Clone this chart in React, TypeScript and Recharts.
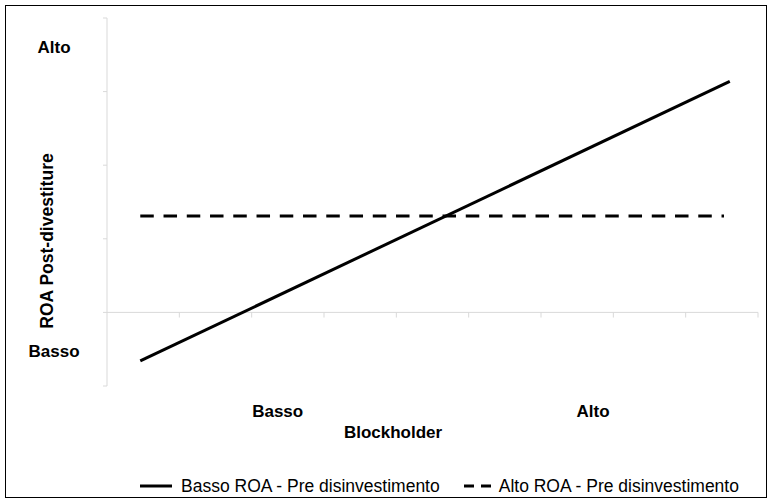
import React from 'react';
import { LineChart, Line, XAxis, YAxis, ReferenceLine, Legend, Label } from 'recharts';

// series: Blockholder (x) vs ROA Post-divestiture (y)
const lowRoaX = [0.46, 8.61];
const lowRoaY = [-0.66, 3.14];
const highRoaX = [0.46, 8.53];
const highRoaY = [1.31, 1.31];

const seriesNames = ['Basso ROA - Pre disinvestimento', 'Alto ROA - Pre disinvestimento'];

// axis ticks and level labels
const blockholderTicks = [1, 2, 3, 4, 5, 6, 7, 8, 9];
const blockholderLevels = [2.36, 6.72];
const blockholderNames = ['Basso', 'Alto'];

const roaTicks = [-1, 0, 1, 2, 3, 4];
const roaLevels = [-0.53, 3.6];
const roaNames = ['Basso', 'Alto'];

const lowRoa = lowRoaX.map((x, i) => ({ x, y: lowRoaY[i] }));
const highRoa = highRoaX.map((x, i) => ({ x, y: highRoaY[i] }));

const FONT = '"Liberation Sans", Arial, sans-serif';
const AXIS = '#d9d9d9';

const RoaTick = (props: any) => {
  const { x, y, payload } = props;
  const i = roaLevels.indexOf(payload.value);
  if (i >= 0) {
    return (
      <text x={x - 49} y={y + 6} textAnchor="middle" fontFamily={FONT} fontSize={17} fontWeight="bold" fill="#000">
        {roaNames[i]}
      </text>
    );
  }
  return <line x1={x} x2={x + 4} y1={y} y2={y} stroke={AXIS} />;
};

// legend keeps the series order (recharts sorts its payload by name)
const renderLegend = () => (
  <div style={{ display: 'flex', alignItems: 'center', height: 24, paddingLeft: 140, fontFamily: FONT, fontSize: 17.5, color: '#000' }}>
    {seriesNames.map((name, i) => {
      const dashed = i === 1;
      const w = dashed ? 27 : 32;
      return (
        <span key={name} style={{ display: 'flex', alignItems: 'center', marginRight: 24 }}>
          <svg width={w} height={6}>
            <line x1={0} x2={w} y1={3} y2={3} stroke="#000" strokeWidth={3} strokeDasharray={dashed ? '10 7' : undefined} />
          </svg>
          <span style={{ marginLeft: dashed ? 8 : 9, whiteSpace: 'nowrap' }}>{name}</span>
        </span>
      );
    })}
  </div>
);

export default function App() {
  return (
    <div style={{ position: 'absolute', top: 0, left: 0, width: 768, height: 499, background: '#fff' }}>
      <div style={{ position: 'absolute', top: 5, left: 5, width: 762, height: 493, border: '1px solid #000', boxSizing: 'border-box' }} />
      <div style={{ position: 'absolute', top: 0, left: 0 }}>
        <LineChart width={768} height={499} margin={{ top: 18, right: 10, left: 0, bottom: 53 }}>
          <XAxis
            type="number"
            dataKey="x"
            domain={[0, 9]}
            ticks={blockholderLevels}
            interval={0}
            tickFormatter={(v: number) => blockholderNames[blockholderLevels.indexOf(v)]}
            axisLine={false}
            tickLine={false}
            tickSize={0}
            tickMargin={19}
            height={60}
            tick={{ fill: '#000', fontSize: 17, fontWeight: 'bold', fontFamily: FONT }}
          >
            <Label
              content={({ viewBox }: any) => (
                <text x={viewBox.x + 286} y={viewBox.y + 52} textAnchor="middle" fontFamily={FONT} fontSize={17} fontWeight="bold" fill="#000">
                  Blockholder
                </text>
              )}
            />
          </XAxis>
          <YAxis
            type="number"
            domain={[-1, 4]}
            ticks={[...roaTicks, ...roaLevels].sort((a, b) => a - b)}
            interval={0}
            width={107}
            axisLine={{ stroke: AXIS }}
            tickLine={false}
            tickSize={4}
            tickMargin={0}
            tick={<RoaTick />}
          >
            <Label
              content={({ viewBox }: any) => {
                const cx = viewBox.x + 53;
                const cy = viewBox.y + 223;
                return (
                  <text x={cx} y={cy} transform={`rotate(-90, ${cx}, ${cy})`} textAnchor="middle" fontFamily={FONT} fontSize={17.5} fontWeight="bold" fill="#000">
                    ROA Post-divestiture
                  </text>
                );
              }}
            />
          </YAxis>
          <ReferenceLine y={0} stroke={AXIS} />
          {blockholderTicks.map((t) => (
            <ReferenceLine key={t} segment={[{ x: t, y: 0 }, { x: t, y: -0.07 }]} stroke={AXIS} />
          ))}
          <Legend verticalAlign="middle" align="center" layout="horizontal" content={renderLegend} wrapperStyle={{ top: 474, left: 0, width: 768 }} />
          <Line data={lowRoa} dataKey="y" name={seriesNames[0]} type="linear" stroke="#000" strokeWidth={3} dot={false} activeDot={false} isAnimationActive={false} />
          <Line data={highRoa} dataKey="y" name={seriesNames[1]} type="linear" stroke="#000" strokeWidth={3} strokeDasharray="13.5 9.75" dot={false} activeDot={false} isAnimationActive={false} />
        </LineChart>
      </div>
    </div>
  );
}
